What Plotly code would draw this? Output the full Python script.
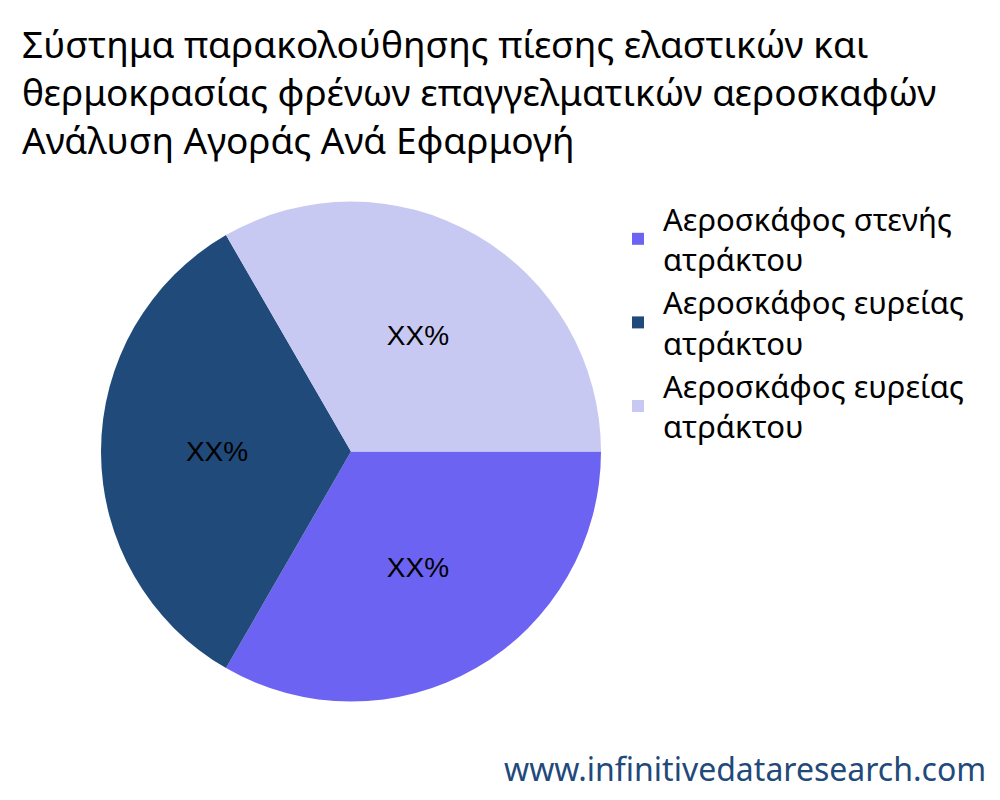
import plotly.graph_objects as go

labels = ["Αεροσκάφος στενής<br>ατράκτου", "Αεροσκάφος ευρείας<br>ατράκτου", "Αεροσκάφος ευρείας<br>ατράκτου "]
values = [1, 1, 1]
texts = ["XX%", "XX%", "XX%"]
colors = ["#6c63f2", "#1f4a7a", "#c8c9f2"]
title_text = ("Σύστημα παρακολούθησης πίεσης ελαστικών και<br>"
              "θερμοκρασίας φρένων επαγγελματικών αεροσκαφών<br>Ανάλυση Αγοράς Ανά Εφαρμογή")

fig = go.Figure()
fig.add_trace(go.Pie(
    labels=labels, values=values, text=texts, textinfo="text",
    marker=dict(colors=colors), sort=False, direction="clockwise", rotation=90,
    insidetextorientation="horizontal",
    textfont=dict(family="Liberation Sans, Arial", size=28, color="black"),
    domain=dict(x=[0.093, 0.593], y=[0.133, 0.758]),
))
fig.update_layout(
    width=1000, height=800,
    margin=dict(l=0, r=0, t=0, b=0),
    paper_bgcolor="white",
    font=dict(family="Noto Sans", color="black"),
    legend=dict(x=0.605, y=0.77, xanchor="left", yanchor="top", font=dict(size=31),
                itemwidth=40),
    annotations=[
        dict(text=title_text, x=0.012, y=0.99, xref="paper", yref="paper", xanchor="left", yanchor="top",
             align="left", showarrow=False, font=dict(size=37)),
        dict(text="www.infinitivedataresearch.com", x=0.98, y=0.02, xref="paper", yref="paper",
             xanchor="right", yanchor="bottom", showarrow=False,
             font=dict(size=32, color="#1f4a7a"))],
)
fig.write_html("out.html")
